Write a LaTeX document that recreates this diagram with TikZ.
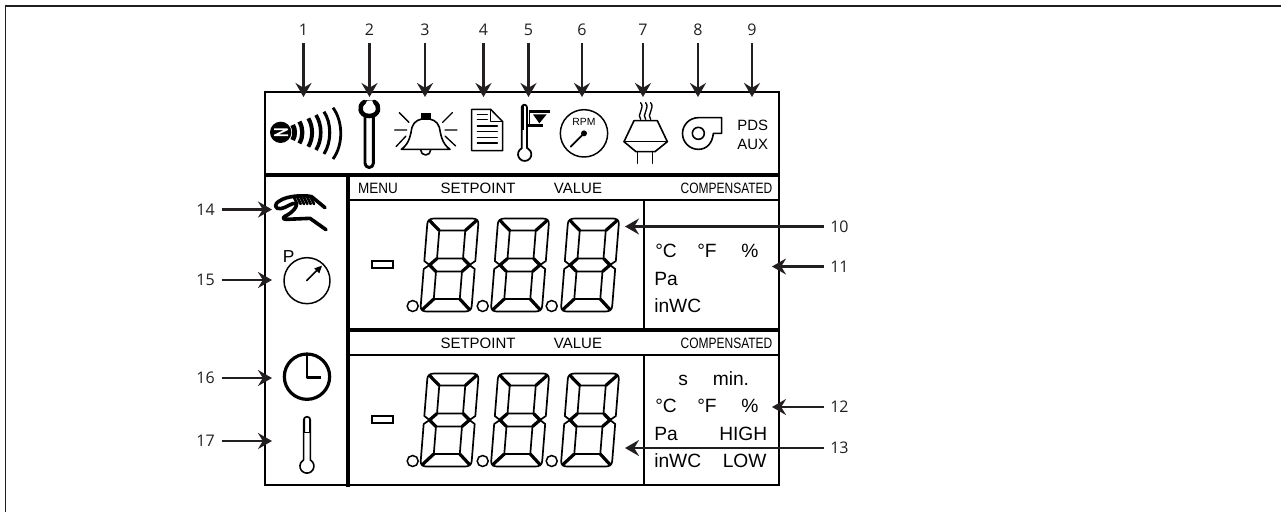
\documentclass[tikz,border=0pt]{standalone}
\usepackage{fontspec}
\usetikzlibrary{arrows.meta}
\setmainfont{Liberation Sans}
\newfontfamily\numfont{Open Sans}
\definecolor{ink}{HTML}{231F20}
\newcommand{\lcdtext}{\fontsize{11.25pt}{12pt}\selectfont}
\newcommand{\unittext}{\fontsize{14.4pt}{15pt}\selectfont}
\newcommand{\pdstext}{\fontsize{11.2pt}{12pt}\selectfont}
\tikzset{
  px/.style={line width=#1*0.75pt},
  numlabel/.style={font=\numfont\fontsize{12pt}{13pt}\selectfont,text=ink,inner sep=1.5pt},
  callout/.style={draw=ink,line width=1.6pt,-{Stealth[length=10.5pt,width=12pt,inset=3.6pt,color=ink]}},
  hdr/.style={font=\lcdtext,inner sep=0pt,anchor=base},
  unit/.style={font=\unittext,inner sep=0pt,anchor=base west},
  thin box/.style={draw=black,px=1.8},
  thick box/.style={draw=black,px=3.6},
  icon/.style={x=0.25pt,y=-0.25pt,line join=round,line cap=round},
  seg/.style={draw=black,px=1.7,line join=round},
  diag/.style={draw=black,px=3.2,line cap=butt},
}
\newcommand{\lcddigit}[2]{%
  \begin{scope}[shift={(#1,#2)},xslant=0.08]
    \draw[seg] (-25.5,-4) -- (-25.5,-41) .. controls (-25.5,-45) and (-23,-46.5) .. (-19,-46.5)
      -- (19,-46.5) .. controls (23,-46.5) and (25.5,-45) .. (25.5,-41) -- (25.5,-4) -- (20,0) -- (25.5,4)
      -- (25.5,41) .. controls (25.5,45) and (23,46.5) .. (19,46.5)
      -- (-19,46.5) .. controls (-23,46.5) and (-25.5,45) .. (-25.5,41) -- (-25.5,4) -- (-20,0) -- cycle;
    \draw[seg] (-13,-34.5) rectangle (13,-6.5);
    \draw[seg] (-13,6.5) rectangle (13,34);
    \draw[diag] (-24,-45) -- (-13,-34.5) (24,-45) -- (13,-34.5)
      (-24,45) -- (-13,34) (24,45) -- (13,34)
      (-20,0) -- (-13,-6.5) (-20,0) -- (-13,6.5) (20,0) -- (13,-6.5) (20,0) -- (13,6.5);
  \end{scope}}
\newcommand{\lcdrow}[1]{%
  \draw[px=1.9] (371.7,#1-4) rectangle (392.7,#1+3);
  \lcddigit{449.5}{#1}\lcddigit{520}{#1}\lcddigit{590}{#1}
  \draw[px=1.5] (412.7,#1+41) circle (5.5) (482.7,#1+41) circle (5.5) (551.7,#1+41) circle (5.5);}
\begin{document}
\begin{tikzpicture}[x=0.75pt,y=-0.75pt]
\useasboundingbox (0,0) rectangle (1287,512);
\draw[draw=ink,px=1.5] (5.5,512) -- (5.5,6) -- (1281,6);

% panel
\draw[thin box] (265,92) rectangle (779,485);
\draw[thick box] (265,175) -- (780,175);
\draw[thick box] (348,175) -- (348,487);
\draw[thick box] (348,330) -- (780,330);
\draw[thin box] (348,200) -- (779,200) (348,355) -- (779,355);
\draw[thin box] (644,200) -- (644,330) (644,355) -- (644,485);

% header texts
\node[hdr,xscale=0.9] (hmenu) at (378,193) {MENU};
\node[hdr] (hset1) at (478,193) {SETPOINT};
\node[hdr] (hval1) at (578,193) {VALUE};
\node[hdr,xscale=0.8] (hcom1) at (726.5,193) {COMPENSATED};
\node[hdr] (hset2) at (478,348) {SETPOINT};
\node[hdr] (hval2) at (578,348) {VALUE};
\node[hdr,xscale=0.8] (hcom2) at (726.5,348) {COMPENSATED};

% digits
\lcdrow{265}
\lcdrow{420}

% units
\node[unit] (uc1) at (655,257) {°C};
\node[unit] (uf1) at (697,257) {°F};
\node[unit] (up1) at (741,257) {\%};
\node[unit] (upa1) at (654,285) {Pa};
\node[unit] (uin1) at (654,312.7) {inWC};
\node[unit] (us) at (678,385) {s};
\node[unit] (umin) at (712.5,385) {min.};
\node[unit] (uc2) at (655,412.7) {°C};
\node[unit] (uf2) at (697,412.7) {°F};
\node[unit] (up2) at (741,412.7) {\%};
\node[unit] (upa2) at (654,440) {Pa};
\node[unit] (uhigh) at (719,440) {HIGH};
\node[unit] (uin2) at (654,467.7) {inWC};
\node[unit] (ulow) at (722.5,467.7) {LOW};

% top row icons, left part (coordinates: 3 units per pixel)
\begin{scope}[shift={(260,80)},icon]
  % signal
  \fill[black] (62,157) circle (32);
  \draw[white,line width=1.3pt,line cap=butt] (42,148) -- (82,148) -- (44,166) -- (84,166);
  \draw[line width=3.6pt,line cap=butt] (98,135) .. controls (106,148) and (106,167) .. (98,180);
  \draw[line width=3.2pt,line cap=butt] (118,125) .. controls (130,145) and (130,170) .. (118,190);
  \draw[line width=3pt,line cap=butt] (145,115) .. controls (160,140) and (160,175) .. (145,200);
  \draw[line width=2.7pt,line cap=butt] (168,105) .. controls (187,135) and (187,180) .. (168,210);
  \draw[line width=2.3pt,line cap=butt] (192,95) .. controls (215,130) and (215,185) .. (192,222);
  \draw[line width=2.1pt,line cap=butt] (219,83) .. controls (250,125) and (250,195) .. (219,237);
  % wrench
  \draw[line width=2.2pt] (315,108) -- (315,250) arc (180:0:12.5) -- (340,108);
  \draw[line width=3.4pt,line cap=round] (343,66) .. controls (362,76) and (358,108) .. (328,108)
    .. controls (298,108) and (294,76) .. (313,66);
  \fill (318,60) -- (345,62) -- (336,78) -- (322,78) -- cycle;
  \fill[white] (322,62) -- (336,62) -- (346,84) .. controls (340,97) and (316,97) .. (310,84) -- cycle;
  % bell
  \fill (483,99) rectangle (512,119);
  \draw[line width=1.2pt,line join=round] (424,208) .. controls (450,190) and (452,160) .. (456,142)
    .. controls (462,122) and (480,116) .. (497,116) .. controls (514,116) and (532,122) .. (538,142)
    .. controls (542,160) and (544,190) .. (570,208) -- cycle;
  \draw[line width=1.2pt] (482,210) arc (180:0:15);
  \draw[line width=1pt] (418,98) -- (447,127) (404,150) -- (440,150) (408,200) -- (438,168)
    (577,98) -- (548,127) (591,150) -- (555,150) (587,198) -- (555,168);
  % document
  \draw[line width=1.1pt,fill=white] (635,88) -- (692,88) -- (728,125) -- (728,212) -- (635,212) -- cycle;
  \draw[line width=1pt] (692,88) -- (692,125) -- (728,125);
  \draw[line width=1pt] (652,104) -- (682,104) (652,119) -- (682,119) (652,138) -- (712,138)
    (652,155) -- (712,155) (652,172) -- (712,172) (652,189) -- (712,189);
  % thermometer with flag
  \draw[line width=1.3pt] (785,205) -- (785,82) arc (180:360:8) -- (801,205);
  \draw[line width=1.3pt] (785,205) arc (243:-63:20);
  \fill (785,78) rectangle (792,150);
  \draw[line width=1.2pt,line cap=butt] (808,95) -- (808,137);
  \draw[line width=2.2pt,line cap=butt] (808,95) -- (870,95);
  \draw[line width=2.6pt,line cap=butt] (801,137) -- (850,137);
  \fill (819,103) -- (860,103) -- (838,130) -- cycle;
\end{scope}

% top row icons, right part
\begin{scope}[shift={(530,80)},icon]
  % rpm
  \draw[line width=1.1pt] (162,160) circle (71);
  \node[inner sep=0pt,font=\fontsize{7.8pt}{8pt}\selectfont] (rpm) at (162,126) {RPM};
  \fill (162,160) circle (9);
  \draw[line width=1.3pt] (162,160) -- (122,200);
  % heater
  \draw[line width=1.2pt] (312,122) -- (382,122) -- (412,185) -- (375,215) -- (318,215) -- (282,185) -- cycle;
  \draw[line width=1.2pt] (282,185) -- (412,185);
  \draw[line width=1.2pt] (323,215) -- (323,250) (368,215) -- (368,250);
  \foreach \wx in {332,347,362}{
    \draw[line width=1pt] (\wx,118) .. controls (\wx-14,105) and (\wx+14,85) .. (\wx,68);}
  % fan
  \draw[line width=1.2pt] (550,160) -- (575,160) -- (575,113) -- (505,113) arc (270:90:47.5)
    .. controls (530,208) and (547,190) .. (550,160);
  \draw[line width=1.2pt] (505,160) circle (18);
  % text
  \node[inner sep=0pt,anchor=base,font=\pdstext] (pds) at (668,150) {PDS};
  \node[inner sep=0pt,anchor=base,font=\pdstext] (aux) at (668,207) {AUX};
\end{scope}

% left column icons
\begin{scope}[shift={(260,170)},icon]
  % hand
  \draw[line width=2.7pt] (195,113) -- (155,80) .. controls (130,74) and (80,78) .. (60,92)
    .. controls (40,102) and (44,118) .. (62,116) .. controls (78,114) and (95,98) .. (106,100)
    .. controls (118,104) and (96,130) .. (76,138) .. controls (66,144) and (70,148) .. (80,148)
    -- (150,145) -- (198,179);
  \foreach \hx in {100,110,120,130,140,150}{
    \draw[line width=2pt] (\hx,78) -- (\hx+12,102);}
  % pressure
  \node[inner sep=0pt,font=\fontsize{13pt}{13pt}\selectfont] (ptext) at (86,261) {P};
  \draw[line width=1.1pt] (141,332) circle (69);
  \draw[line width=1.2pt] (140,332) -- (172,300);
  \fill (186,287) -- (178,310) -- (163,295) -- cycle;
\end{scope}
\begin{scope}[shift={(260,340)},icon]
  % clock
  \draw[line width=2.4pt] (141,110) circle (68);
  \draw[line width=2.2pt,line cap=butt] (141,45) -- (141,113) -- (182,113);
  % thermometer
  \draw[line width=1.2pt,fill=white] (131,360) -- (131,240) arc (180:360:10) -- (151,360)
    arc (-61:241:21);
  \fill (131,235) rectangle (135,277) (147,235) rectangle (151,277);
  \draw[line width=1.2pt] (131,277) -- (151,277);
\end{scope}

% callouts
\foreach \i/\cx in {1/303.5,2/369.5,3/425,4/483.5,5/528.5,6/582,7/643,8/698,9/752}{
  \node[numlabel] (n\i) at (\cx,30) {\i};
  \coordinate (t\i) at (\cx,97);
  \draw[callout,shorten <=4pt] (n\i) -- (t\i);
}
\foreach \i/\cy in {14/209.5,15/280,16/378,17/441}{
  \node[numlabel] (n\i) at (205.5,\cy) {\i};
  \coordinate (t\i) at (272,\cy);
  \draw[callout,shorten <=3.5pt] (n\i) -- (t\i);
}
\foreach \i/\cy/\tx in {10/226.5/625,11/266.5/772,12/407/772,13/448/625}{
  \node[numlabel,anchor=west] (n\i) at (828,\cy) {\i};
  \coordinate (t\i) at (\tx,\cy);
  \draw[callout,shorten <=3pt] (n\i) -- (t\i);
}
\end{tikzpicture}
\end{document}
